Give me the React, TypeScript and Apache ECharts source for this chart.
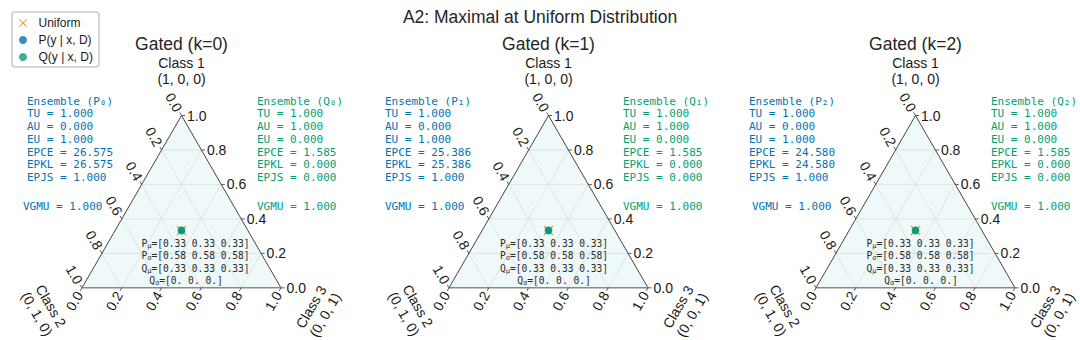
import React, { useEffect, useRef } from "react";
import * as echarts from "echarts";

// ---------------- data ----------------
const mainTitle = "A2: Maximal at Uniform Distribution";
const panelTitles = ["Gated (k=0)", "Gated (k=1)", "Gated (k=2)"];
const subDigits = ["\u2080", "\u2081", "\u2082"];
const tickValues = [0, 0.2, 0.4, 0.6, 0.8, 1.0];
const gridValues = [0.2, 0.4, 0.6, 0.8];
const classLabels = ["Class 1\n(1, 0, 0)", "Class 2\n(0, 1, 0)", "Class 3\n(0, 0, 1)"];
const legendNames = ["Uniform", "P(y | x, D)", "Q(y | x, D)"];

// ensemble P statistics per panel
const pTU = [1.0, 1.0, 1.0];
const pAU = [0.0, 0.0, 0.0];
const pEU = [1.0, 1.0, 1.0];
const pEPCE = [26.575, 25.386, 24.58];
const pEPKL = [26.575, 25.386, 24.58];
const pEPJS = [1.0, 1.0, 1.0];
const pVGMU = [1.0, 1.0, 1.0];
// ensemble Q statistics per panel
const qTU = [1.0, 1.0, 1.0];
const qAU = [1.0, 1.0, 1.0];
const qEU = [0.0, 0.0, 0.0];
const qEPCE = [1.585, 1.585, 1.585];
const qEPKL = [0.0, 0.0, 0.0];
const qEPJS = [0.0, 0.0, 0.0];
const qVGMU = [1.0, 1.0, 1.0];

const pMu = [[0.33, 0.33, 0.33], [0.33, 0.33, 0.33], [0.33, 0.33, 0.33]];
const pSigma = [[0.58, 0.58, 0.58], [0.58, 0.58, 0.58], [0.58, 0.58, 0.58]];
const qMu = [[0.33, 0.33, 0.33], [0.33, 0.33, 0.33], [0.33, 0.33, 0.33]];
const qSigma = [[0, 0, 0], [0, 0, 0], [0, 0, 0]];

// ternary points (Class 1, Class 2, Class 3)
const uniformPoint = [0.3333, 0.3333, 0.3333];
const pPoints = [[0.3333, 0.3333, 0.3333], [0.3333, 0.3333, 0.3333], [0.3333, 0.3333, 0.3333]];
const qPoints = [[0.3333, 0.3333, 0.3333], [0.3333, 0.3333, 0.3333], [0.3333, 0.3333, 0.3333]];

// ---------------- style / layout ----------------
const BLUE = "#0173B2";
const GREEN = "#029E73";
const ORANGE = "#DE8F05";
const SANS = "'Liberation Sans', Arial, sans-serif";
const MONO = "'DejaVu Sans Mono', monospace";
const TXT = "#1a1a1a";

const PANEL_LEFT = [82, 449, 816];
const TRI_W = 199;
const H = Math.sqrt(3) / 2;
const TRI_TOP = 115.5;
const LEFT_TXT_X = [27, 385, 749];
const VGMU_L_X = [23, 385, 752];
const RIGHT_TXT_X = [257, 623, 991];
const INNER_X = [195.5, 554, 920.5];
const INNER_X4 = [186, 554, 921];

const toXY = (t: number[]) => [t[2] + t[0] / 2, t[0] * H];

const fmtArr = (a: number[]) =>
  "[" + a.map((v) => (v === 0 ? "0." : v.toFixed(2))).join(" ") + "]";

const textEl = (text: string, x: number, y: number, rot: number, align: string, size: number, extra: any = {}) => ({
  type: "text",
  x,
  y,
  rotation: rot,
  z: 10,
  style: {
    text,
    fill: TXT,
    fontSize: size,
    fontFamily: SANS,
    align,
    verticalAlign: "middle",
    textAlign: align,
    textVerticalAlign: "middle",
    ...extra,
  },
});

const fillRender = (params: any, api: any) => {
  const pts = [[0, 1, 0], [0, 0, 1], [1, 0, 0]].map((t) => api.coord(toXY(t)));
  return { type: "polygon", shape: { points: pts }, style: { fill: "#eff9f9", stroke: "none" } };
};

const gridRender = (params: any, api: any) => {
  const v = api.value(0);
  const segs = [
    [[v, 1 - v, 0], [v, 0, 1 - v]],
    [[1 - v, v, 0], [0, v, 1 - v]],
    [[1 - v, 0, v], [0, 1 - v, v]],
  ];
  return {
    type: "group",
    children: segs.map(([p, q]) => {
      const a = api.coord(toXY(p));
      const b = api.coord(toXY(q));
      return {
        type: "line",
        shape: { x1: a[0], y1: a[1], x2: b[0], y2: b[1] },
        style: { stroke: "#dcdcdc", lineWidth: 0.8 },
      };
    }),
  };
};

const edgeRender = (params: any, api: any) => {
  const top = api.coord(toXY([1, 0, 0]));
  const bl = api.coord(toXY([0, 1, 0]));
  const br = api.coord(toXY([0, 0, 1]));
  return {
    type: "group",
    children: [
      { type: "polyline", shape: { points: [bl, top, br] }, style: { stroke: "#444", lineWidth: 1, fill: null } },
      { type: "line", shape: { x1: bl[0], y1: bl[1], x2: br[0], y2: br[1] }, style: { stroke: "#8a8a8a", lineWidth: 1.5 } },
      textEl(classLabels[0], top[0], top[1] - 44.5, 0, "center", 14, { lineHeight: 16 }),
      textEl(classLabels[1], bl[0] - 38, bl[1] + 22, -Math.PI / 3, "center", 14, { lineHeight: 16 }),
      textEl(classLabels[2], br[0] + 37, br[1] + 23, Math.PI / 3, "center", 14, { lineHeight: 16 }),
    ],
  };
};

const tickRender = (params: any, api: any) => {
  const v = api.value(0);
  const lbl = v.toFixed(1);
  const defs = [
    { t: [v, 0, 1 - v], d: [1, 0], rot: 0, align: "left" },
    { t: [1 - v, v, 0], d: [-0.5, -H], rot: -Math.PI / 3, align: "right" },
    { t: [0, 1 - v, v], d: [-0.5, H], rot: Math.PI / 3, align: "right" },
  ];
  const children: any[] = [];
  defs.forEach((df) => {
    const p = api.coord(toXY(df.t));
    children.push({
      type: "line",
      shape: { x1: p[0], y1: p[1], x2: p[0] + 3.5 * df.d[0], y2: p[1] + 3.5 * df.d[1] },
      style: { stroke: "#444", lineWidth: 0.9 },
    });
    children.push(textEl(lbl, p[0] + 5.5 * df.d[0], p[1] + 5.5 * df.d[1], df.rot, df.align, 14));
  });
  return { type: "group", children };
};

const crossPath = "path://M1,0L5,4L9,0L10,1L6,5L10,9L9,10L5,6L1,10L0,9L4,5L0,1Z";

export default function App() {
  const ref = useRef<HTMLDivElement>(null);
  useEffect(() => {
    if (!ref.current) return;
    document.body.style.margin = "0";
    const chart = echarts.init(ref.current, null, { renderer: "svg" });

    const grids: any[] = [];
    const xAxes: any[] = [];
    const yAxes: any[] = [];
    const series: any[] = [];
    const graphic: any[] = [];

    graphic.push(textEl(mainTitle, 540, 17, 0, "center", 17.5, { fill: "#262626" }));

    for (let i = 0; i < 3; i++) {
      grids.push({ left: PANEL_LEFT[i], top: TRI_TOP, width: TRI_W, height: TRI_W * H, containLabel: false, outerBoundsMode: "none" });
      xAxes.push({ type: "value", gridIndex: i, min: 0, max: 1, show: false });
      yAxes.push({ type: "value", gridIndex: i, min: 0, max: H, show: false });
      const common = { xAxisIndex: i, yAxisIndex: i, clip: false, silent: true };
      series.push({ type: "custom", ...common, renderItem: fillRender, data: [[0, 0]], z: 1 });
      series.push({ type: "custom", ...common, renderItem: gridRender, data: gridValues.map((v) => [v, 0]), z: 1 });
      series.push({ type: "custom", ...common, renderItem: edgeRender, data: [[0, 0]], z: 1 });
      series.push({ type: "custom", ...common, renderItem: tickRender, data: tickValues.map((v) => [v, 0]), z: 1 });
      series.push({
        type: "scatter", name: legendNames[0], xAxisIndex: i, yAxisIndex: i,
        symbol: crossPath, symbolSize: 10, itemStyle: { color: ORANGE }, data: [toXY(uniformPoint)], z: 3,
      });
      series.push({
        type: "scatter", name: legendNames[1], xAxisIndex: i, yAxisIndex: i,
        symbol: "circle", symbolSize: 7.5, itemStyle: { color: BLUE }, data: pPoints.slice(i, i + 1).map(toXY), z: 3,
      });
      series.push({
        type: "scatter", name: legendNames[2], xAxisIndex: i, yAxisIndex: i,
        symbol: "circle", symbolSize: 7.5, itemStyle: { color: GREEN }, data: qPoints.slice(i, i + 1).map(toXY), z: 3,
      });

      const apexX = PANEL_LEFT[i] + TRI_W / 2;
      graphic.push(textEl(panelTitles[i], apexX, 44, 0, "center", 17.5, { fill: "#262626" }));

      const leftLines = [
        `Ensemble (P${subDigits[i]})`,
        `TU = ${pTU[i].toFixed(3)}`,
        `AU = ${pAU[i].toFixed(3)}`,
        `EU = ${pEU[i].toFixed(3)}`,
        `EPCE = ${pEPCE[i].toFixed(3)}`,
        `EPKL = ${pEPKL[i].toFixed(3)}`,
        `EPJS = ${pEPJS[i].toFixed(3)}`,
      ].join("\n");
      const rightLines = [
        `Ensemble (Q${subDigits[i]})`,
        `TU = ${qTU[i].toFixed(3)}`,
        `AU = ${qAU[i].toFixed(3)}`,
        `EU = ${qEU[i].toFixed(3)}`,
        `EPCE = ${qEPCE[i].toFixed(3)}`,
        `EPKL = ${qEPKL[i].toFixed(3)}`,
        `EPJS = ${qEPJS[i].toFixed(3)}`,
      ].join("\n");
      const monoStyle = { fontFamily: MONO, lineHeight: 12.8, verticalAlign: "top", textVerticalAlign: "top" };
      graphic.push(textEl(leftLines, LEFT_TXT_X[i], 94.6, 0, "left", 11, { ...monoStyle, fill: BLUE }));
      graphic.push(textEl(rightLines, RIGHT_TXT_X[i], 94.6, 0, "left", 11, { ...monoStyle, fill: GREEN }));
      graphic.push(textEl(`VGMU = ${pVGMU[i].toFixed(3)}`, VGMU_L_X[i], 206, 0, "left", 11, { fontFamily: MONO, fill: BLUE }));
      graphic.push(textEl(`VGMU = ${qVGMU[i].toFixed(3)}`, RIGHT_TXT_X[i], 206, 0, "left", 11, { fontFamily: MONO, fill: GREEN }));

      const rich = {
        m: { fontSize: 9.6, fontFamily: MONO, fill: "#2a2a2a", lineHeight: 12 },
        s: { fontSize: 7, fontFamily: MONO, fill: "#2a2a2a", lineHeight: 7, verticalAlign: "bottom" },
      };
      const inner = [
        ["P", "\u03bc", pMu[i]],
        ["P", "\u03c3", pSigma[i]],
        ["Q", "\u03bc", qMu[i]],
        ["Q", "\u03c3", qSigma[i]],
      ] as any[];
      inner.forEach((row, k) => {
        const x = k === 3 ? INNER_X4[i] : INNER_X[i];
        graphic.push({
          type: "text",
          x,
          y: 243 + k * 12.6,
          z: 10,
          style: {
            text: `{m|${row[0]}}{s|${row[1]}}{m|=${fmtArr(row[2])}}`,
            rich,
            fill: "#2a2a2a",
            align: "center",
            verticalAlign: "middle",
            textAlign: "center",
            textVerticalAlign: "middle",
          },
        });
      });
    }

    chart.setOption({
      animation: false,
      backgroundColor: "#ffffff",
      grid: grids,
      xAxis: xAxes,
      yAxis: yAxes,
      series,
      graphic: { elements: graphic },
      tooltip: { show: false },
      legend: {
        data: legendNames,
        left: 12,
        top: 12,
        orient: "vertical",
        backgroundColor: "#ffffff",
        borderColor: "#c8c8c8",
        borderWidth: 1.5,
        borderRadius: 3,
        padding: [5, 6, 4, 7],
        itemGap: 5,
        itemWidth: 21,
        itemHeight: 8,
        selectedMode: false,
        textStyle: { fontSize: 12, fontFamily: SANS, color: TXT },
      },
    });
    return () => chart.dispose();
  }, []);
  return <div ref={ref} style={{ width: 1080, height: 340, background: "#fff" }} />;
}
